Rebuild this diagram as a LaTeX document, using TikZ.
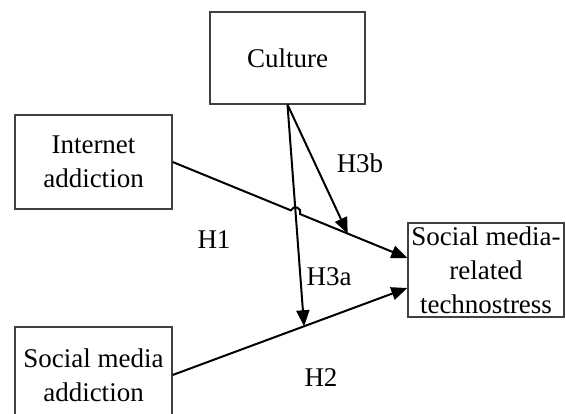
\documentclass[tikz,border=0pt]{standalone}
\usepackage{fontspec}
\setmainfont{Liberation Serif}
\usetikzlibrary{arrows.meta,calc,intersections}

\begin{document}
\begin{tikzpicture}[x=1pt,y=1pt]
        \tikzstyle{varbox}=[rectangle,draw=black!75,line width=1.3pt,align=center,inner sep=0pt,font=\fontsize{27}{34}\selectfont]
        \tikzstyle{hyp}=[font=\fontsize{27}{34}\selectfont,inner sep=0pt]
        \tikzstyle{path}=[line width=2pt,-{Triangle[length=16pt,width=13pt]}]
        \useasboundingbox (0,0) rectangle (566,414);
        \node[varbox,minimum width=155,minimum height=92] (culture) at (287.5,356) {Culture};
        \node[varbox,minimum width=157,minimum height=94] (inet) at (93.5,252) {Internet\\addiction};
        \node[varbox,minimum width=157,minimum height=96] (sma) at (93.5,39) {Social media\\addiction};
        \node[varbox,minimum width=156,minimum height=94] (tech) at (486,144) {Social media-\\related\\technostress};
        \coordinate (t1) at ($(tech.west)+(0,12)$);
        \coordinate (t2) at ($(tech.west)+(0,-18)$);
        % points where the moderating arrows land
        \path[name path=h1line] (inet.east) -- (t1) coordinate[pos=0.746] (m1);
        \path (sma.east) -- (t2) coordinate[pos=0.56] (m2);
        \path[name path=h3aline] (culture.south) -- (m2);
        \path[name intersections={of=h1line and h3aline,by=jmp}];
        % H1 with a hop over the H3a line
        \draw[path] (inet.east) -- ($(jmp)!5pt!(inet.east)$) arc[start angle=157.9,end angle=-22.1,radius=5pt] -- (t1);
        \draw[path] (sma.east) -- (t2);
        \draw[path] (culture.south) -- (m1);
        \draw[path] (culture.south) -- (m2);
        \node[hyp] (h1) at (214,174) {H1};
        \node[hyp] (h2) at (321,36) {H2};
        \node[hyp] (h3a) at (329,137) {H3a};
        \node[hyp] (h3b) at (360,251) {H3b};
\end{tikzpicture}
\end{document}
